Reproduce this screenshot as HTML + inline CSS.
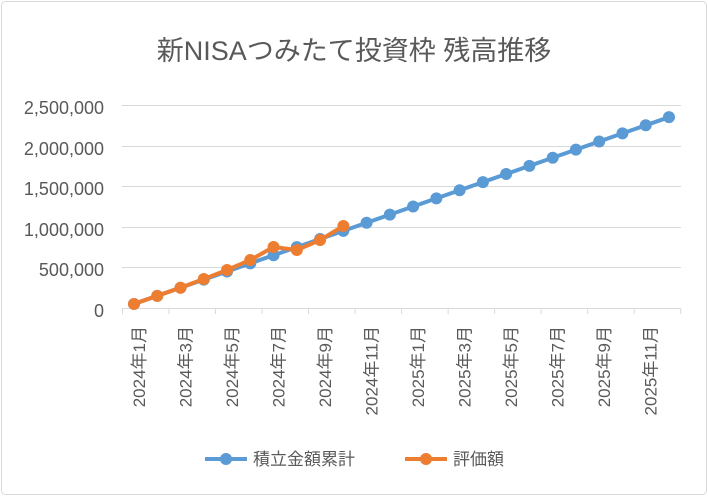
<!DOCTYPE html>
<html><head><meta charset="utf-8"><style>
html,body{margin:0;padding:0;background:#fff;}
svg{display:block;font-family:"Liberation Sans","Noto Sans CJK JP",sans-serif;}
</style></head><body>
<svg width="708" height="496" viewBox="0 0 708 496" xmlns="http://www.w3.org/2000/svg">
<rect x="1.5" y="1.5" width="705" height="493" rx="4" fill="#fff" stroke="#d9d9d9"/>
<text x="354" y="60" text-anchor="middle" font-size="27" fill="#595959">新NISAつみたて投資枠 残高推移</text>
<g stroke="#d9d9d9" stroke-width="1">
<line x1="122" y1="105.5" x2="681" y2="105.5"/>
<line x1="122" y1="146.5" x2="681" y2="146.5"/>
<line x1="122" y1="186.5" x2="681" y2="186.5"/>
<line x1="122" y1="227.5" x2="681" y2="227.5"/>
<line x1="122" y1="267.5" x2="681" y2="267.5"/>
<line x1="122" y1="308.5" x2="681" y2="308.5"/>
</g>
<g id="ticks" stroke="#d9d9d9" stroke-width="1"></g>
<g font-size="18" fill="#595959" text-anchor="end">
<text x="104" y="114">2,500,000</text>
<text x="104" y="155">2,000,000</text>
<text x="104" y="195">1,500,000</text>
<text x="104" y="236">1,000,000</text>
<text x="104" y="276">500,000</text>
<text x="104" y="317">0</text>
</g>
<g font-size="17" fill="#595959" text-anchor="end" id="xl"></g>
<polyline id="blue" fill="none" stroke="#5b9bd5" stroke-width="4" stroke-linejoin="round"/>
<g id="bdots" fill="#5b9bd5"></g>
<polyline id="orange" fill="none" stroke="#ed7d31" stroke-width="4" stroke-linejoin="round"/>
<g id="odots" fill="#ed7d31"></g>
<line x1="205" y1="459" x2="247" y2="459" stroke="#5b9bd5" stroke-width="4"/>
<circle cx="226" cy="459" r="6" fill="#5b9bd5"/>
<text x="253" y="465" font-size="17" fill="#595959">積立金額累計</text>
<line x1="405" y1="459" x2="447" y2="459" stroke="#ed7d31" stroke-width="4"/>
<circle cx="426" cy="459" r="6" fill="#ed7d31"/>
<text x="453" y="465" font-size="17" fill="#595959">評価額</text>
</svg>
<script>
var ns="http://www.w3.org/2000/svg";
function X(i){return 134+i*23.26;}
function Y(v){return 308-v/2500000*203;}
var bp=[],op=[];
var ov=[50000,150000,250000,357000,468000,591000,751000,714000,837000,1010000];
for(var k=0;k<=12;k++){var l=document.createElementNS(ns,"line");var tx=122.5+k*46.52;
l.setAttribute("x1",tx);l.setAttribute("x2",tx);l.setAttribute("y1",308);l.setAttribute("y2",314);document.getElementById("ticks").appendChild(l);}
for(var i=0;i<24;i++){var v=50000+100000*i;bp.push(X(i)+","+Y(v));
var c=document.createElementNS(ns,"circle");c.setAttribute("cx",X(i));c.setAttribute("cy",Y(v));c.setAttribute("r",6);document.getElementById("bdots").appendChild(c);
if(i%2==0){var t=document.createElementNS(ns,"text");var y=2024+Math.floor(i/12),m=i%12+1;t.textContent=y+"年"+m+"月";
t.setAttribute("transform","translate("+(X(i)+11)+",326) rotate(-90)");document.getElementById("xl").appendChild(t);}}
for(var i=0;i<ov.length;i++){op.push(X(i)+","+Y(ov[i]));
var c=document.createElementNS(ns,"circle");c.setAttribute("cx",X(i));c.setAttribute("cy",Y(ov[i]));c.setAttribute("r",6);document.getElementById("odots").appendChild(c);}
document.getElementById("blue").setAttribute("points",bp.join(" "));
document.getElementById("orange").setAttribute("points",op.join(" "));
</script>
</body></html>
